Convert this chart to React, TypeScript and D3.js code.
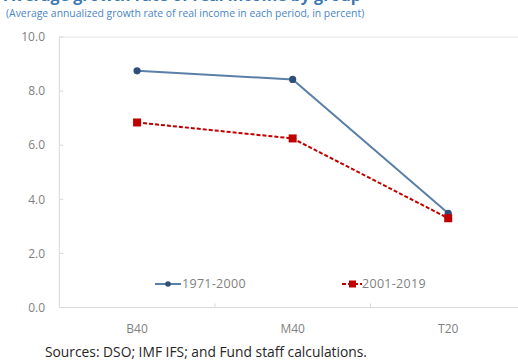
import React from "react";
import * as d3 from "d3";

const categories = ["B40", "M40", "T20"];
const series1971 = [8.75, 8.43, 3.48];
const series2001 = [6.84, 6.25, 3.3];
const seriesNames = ["1971-2000", "2001-2019"];
const yTicks = [0, 2, 4, 6, 8, 10];

const W = 518;
const H = 362;
const plotLeft = 59.3;
const plotTop = 37;
const plotBottom = 307.5;
const plotRight = 526;

export default function App() {
  const x = d3.scalePoint<string>().domain(categories).range([plotLeft, plotRight]).padding(0.5);
  const band = (plotRight - plotLeft) / categories.length;
  const y = d3.scaleLinear().domain([0, 10]).range([plotBottom, plotTop]);
  const line = d3
    .line<number>()
    .x((_, i) => x(categories[i]) as number)
    .y((d) => y(d));
  const font = "'Open Sans', sans-serif";
  const blueLine = "#5a7fa8";
  const blueMarker = "#2f4f78";
  const red = "#c00000";

  return (
    <svg width={W} height={H} style={{ position: "absolute", left: 0, top: 0, background: "#fff" }}>
      <text x={4} y={1} fontFamily={font} fontWeight="bold" fontSize={16} fill="#3c78b4">
        Average growth rate of real income by group
      </text>
      <text x={6} y={17} fontFamily={font} fontSize={10.4} fill="#4a86c5">
        (Average annualized growth rate of real income in each period, in percent)
      </text>
      {/* plot frame */}
      <line x1={plotLeft} x2={W} y1={plotTop} y2={plotTop} stroke="#e3e3e3" />
      <line x1={plotLeft} x2={plotLeft} y1={plotTop} y2={plotBottom} stroke="#d9d9d9" />
      <line x1={plotLeft} x2={W} y1={plotBottom} y2={plotBottom} stroke="#d9d9d9" />
      {yTicks.map((t) => (
        <g key={t}>
          <line x1={plotLeft} x2={plotLeft + 4} y1={y(t)} y2={y(t)} stroke="#d9d9d9" />
          <text x={45} y={y(t)} dy="0.35em" textAnchor="end" fontFamily={font} fontSize={12} fill="#7f7f7f">
            {t.toFixed(1)}
          </text>
        </g>
      ))}
      {categories.slice(1).map((c) => (
        <line key={c} x1={(x(c) as number) - band / 2} x2={(x(c) as number) - band / 2} y1={plotBottom} y2={plotBottom - 4} stroke="#d9d9d9" />
      ))}
      {categories.map((c) => (
        <text key={c} x={x(c)} y={plotBottom + 21} dy="0.35em" textAnchor="middle" fontFamily={font} fontSize={12} fill="#7f7f7f">
          {c}
        </text>
      ))}
      <path d={line(series1971) as string} fill="none" stroke={blueLine} strokeWidth={2} />
      <path d={line(series2001) as string} fill="none" stroke={red} strokeWidth={2} strokeDasharray="4,2" />
      {series1971.map((v, i) => (
        <circle key={i} cx={x(categories[i])} cy={y(v)} r={3.6} fill={blueMarker} />
      ))}
      {series2001.map((v, i) => (
        <rect key={i} x={(x(categories[i]) as number) - 4} y={y(v) - 4} width={8} height={8} fill={red} />
      ))}
      {/* legend */}
      <g>
        <line x1={155} x2={181} y1={284} y2={284} stroke={blueLine} strokeWidth={2} />
        <circle cx={168} cy={284} r={2.8} fill={blueMarker} />
        <text x={182} y={284} dy="0.35em" fontFamily={font} fontSize={12.5} letterSpacing={0.3} fill="#7f7f7f">
          {seriesNames[0]}
        </text>
        <line x1={342} x2={362} y1={284} y2={284} stroke={red} strokeWidth={2} strokeDasharray="4,2" />
        <rect x={349} y={280.5} width={7} height={7} fill={red} />
        <text x={362} y={284} dy="0.35em" fontFamily={font} fontSize={12.5} letterSpacing={0.3} fill="#7f7f7f">
          {seriesNames[1]}
        </text>
      </g>
      <text x={45} y={357} fontFamily={font} fontSize={13.8} fill="#262626">
        Sources: DSO; IMF IFS; and Fund staff calculations.
      </text>
    </svg>
  );
}
